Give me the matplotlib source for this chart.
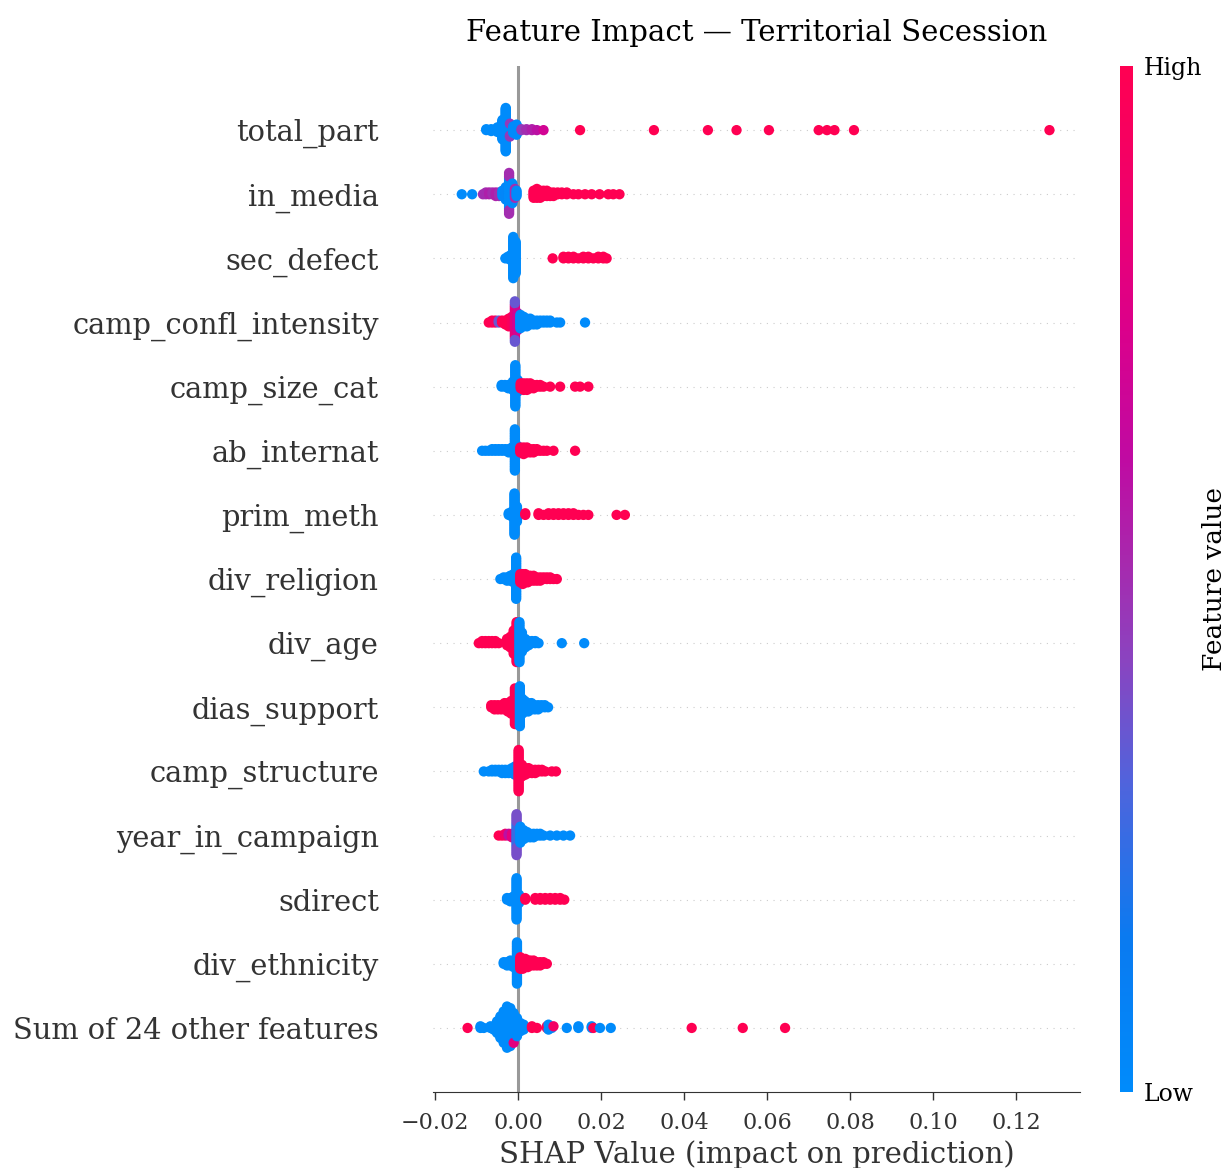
import numpy as np
import matplotlib
matplotlib.use("Agg")
import matplotlib.pyplot as plt
from matplotlib.colors import LinearSegmentedColormap

plt.rcParams['font.family'] = ['DejaVu Serif']

# feature names, top to bottom
features = ["total_part", "in_media", "sec_defect", "camp_confl_intensity",
            "camp_size_cat", "ab_internat", "prim_meth", "div_religion",
            "div_age", "dias_support", "camp_structure", "year_in_campaign",
            "sdirect", "div_ethnicity", "Sum of 24 other features"]

# each entry: (shap value, number of samples, feature value 0=low .. 1=high)
total_part = [(-0.0077, 2, 0), (-0.0065, 3, 0), (-0.0050, 6, 0), (-0.0038, 22, 0),
              (-0.0030, 26, 0), (-0.0022, 12, 0), (-0.0020, 3, 0.45), (-0.0012, 8, 0),
              (-0.0004, 4, 0), (0.0008, 2, 0.45), (0.0020, 2, 0.5), (0.0033, 2, 0.55),
              (0.0045, 1, 0.6), (0.0061, 1, 0.7), (0.0149, 1, 1), (0.0327, 1, 1),
              (0.0457, 1, 1), (0.0526, 1, 1), (0.0604, 1, 1), (0.0724, 1, 1),
              (0.0744, 1, 1), (0.0762, 1, 1), (0.0809, 1, 1), (0.128, 1, 1)]
in_media = [(-0.0136, 1, 0), (-0.0111, 1, 0), (-0.0085, 1, 0.5), (-0.0078, 2, 0.5),
            (-0.0070, 2, 0.55), (-0.0062, 2, 0.5), (-0.0054, 3, 0.55), (-0.0046, 3, 0.5),
            (-0.0038, 4, 0), (-0.0030, 8, 0.05), (-0.0022, 18, 0), (-0.0022, 6, 0.5),
            (-0.0014, 12, 0), (-0.0008, 6, 0.5), (-0.0004, 4, 0),
            (0.0037, 5, 1), (0.0045, 6, 1), (0.0053, 5, 1), (0.0061, 4, 1), (0.0069, 4, 1),
            (0.0077, 3, 1), (0.0085, 3, 1), (0.0095, 2, 1), (0.0105, 2, 1), (0.0117, 2, 1),
            (0.0133, 1, 1), (0.0145, 1, 1), (0.0161, 1, 1), (0.0177, 1, 1), (0.0196, 1, 1),
            (0.0217, 1, 1), (0.0229, 1, 1), (0.0244, 1, 1)]
sec_defect = [(-0.0031, 1, 0), (-0.0025, 2, 0), (-0.0018, 4, 0), (-0.0012, 26, 0),
              (-0.0006, 20, 0), (0.0083, 1, 1), (0.0109, 2, 1), (0.0121, 2, 1),
              (0.0133, 2, 1), (0.0145, 1, 1), (0.0157, 2, 1), (0.0169, 2, 1),
              (0.0181, 1, 1), (0.0193, 2, 1), (0.0205, 2, 1), (0.0213, 1, 1)]
camp_confl_intensity = [(-0.0071, 1, 1), (-0.0063, 2, 1), (-0.0055, 2, 0.95), (-0.0047, 2, 0.35),
                        (-0.0039, 2, 1), (-0.0031, 3, 1), (-0.0023, 5, 1), (-0.0015, 6, 0.95),
                        (-0.0008, 18, 0.8), (-0.0008, 4, 0.35), (-0.0002, 10, 0.7),
                        (0.0005, 8, 0), (0.0013, 6, 0), (0.0021, 5, 0), (0.0029, 4, 0),
                        (0.0037, 3, 0), (0.0045, 3, 0), (0.0053, 2, 0), (0.0061, 2, 0),
                        (0.0069, 2, 0), (0.0077, 2, 0), (0.0093, 1, 0), (0.0101, 1, 0),
                        (0.0161, 1, 0)]
camp_size_cat = [(-0.0040, 2, 0), (-0.0032, 2, 0), (-0.0024, 3, 0), (-0.0013, 6, 0),
                 (-0.0007, 26, 0), (-0.0001, 8, 0), (0.0006, 4, 1), (0.0013, 5, 1),
                 (0.0021, 5, 1), (0.0029, 4, 1), (0.0037, 3, 1), (0.0045, 2, 1),
                 (0.0053, 2, 1), (0.0061, 1, 1), (0.0077, 1, 1), (0.0101, 1, 1),
                 (0.0137, 1, 1), (0.0149, 1, 1), (0.0169, 1, 1)]
ab_internat = [(-0.0087, 1, 0), (-0.0079, 1, 0), (-0.0071, 1, 0), (-0.0063, 2, 0),
               (-0.0055, 2, 0), (-0.0047, 2, 0), (-0.0039, 2, 0), (-0.0031, 2, 0),
               (-0.0023, 3, 0), (-0.0015, 4, 0), (-0.0008, 26, 0), (-0.0002, 6, 0),
               (0.0005, 4, 1), (0.0013, 5, 1), (0.0021, 4, 1), (0.0029, 3, 1),
               (0.0037, 3, 1), (0.0045, 2, 1), (0.0053, 1, 1), (0.0061, 1, 1),
               (0.0069, 1, 1), (0.0085, 1, 1), (0.0137, 1, 1)]
prim_meth = [(-0.0023, 2, 0), (-0.0015, 4, 0), (-0.0009, 26, 0), (-0.0003, 10, 0),
             (0.0017, 2, 1), (0.0049, 2, 1), (0.0061, 1, 1), (0.0073, 2, 1),
             (0.0085, 2, 1), (0.0097, 2, 1), (0.0109, 2, 1), (0.0121, 2, 1),
             (0.0133, 2, 1), (0.0145, 1, 1), (0.0157, 1, 1), (0.0169, 1, 1),
             (0.0237, 1, 1), (0.0257, 1, 1)]
div_religion = [(-0.0043, 1, 0), (-0.0035, 2, 0), (-0.0027, 3, 0), (-0.0019, 4, 0),
                (-0.0011, 6, 0), (-0.0005, 26, 0), (0.0005, 6, 1), (0.0011, 7, 1),
                (0.0017, 6, 1), (0.0023, 5, 1), (0.0029, 4, 1), (0.0037, 4, 1),
                (0.0045, 3, 1), (0.0053, 3, 1), (0.0061, 2, 1), (0.0069, 2, 1),
                (0.0077, 2, 1), (0.0085, 1, 1), (0.0093, 1, 1)]
div_age = [(-0.0095, 1, 1), (-0.0087, 2, 1), (-0.0079, 2, 1), (-0.0071, 2, 1),
           (-0.0063, 2, 1), (-0.0055, 2, 1), (-0.0047, 1, 1), (-0.0027, 4, 1),
           (-0.0019, 6, 1), (-0.0011, 12, 1), (-0.0004, 20, 1), (0.0003, 20, 0),
           (0.0009, 10, 0), (0.0017, 5, 0), (0.0025, 3, 0), (0.0033, 2, 0),
           (0.0041, 2, 0), (0.0049, 1, 0), (0.0105, 1, 0), (0.0159, 1, 0)]
dias_support = [(-0.0065, 2, 1), (-0.0057, 3, 1), (-0.0049, 3, 1), (-0.0041, 3, 1),
                (-0.0033, 4, 1), (-0.0025, 5, 1), (-0.0017, 7, 1), (-0.0008, 18, 1),
                (-0.0002, 10, 1), (0.0004, 20, 0), (0.0010, 8, 0), (0.0016, 6, 0),
                (0.0024, 5, 0), (0.0032, 4, 0), (0.0040, 3, 0), (0.0048, 3, 0),
                (0.0056, 2, 0), (0.0064, 2, 0), (0.0072, 1, 0)]
camp_structure = [(-0.0083, 1, 0), (-0.0071, 1, 0), (-0.0063, 2, 0), (-0.0055, 2, 0),
                  (-0.0047, 2, 0), (-0.0039, 3, 0), (-0.0031, 3, 0), (-0.0023, 3, 0),
                  (-0.0015, 4, 0), (-0.0008, 6, 0), (0.0001, 26, 1), (0.0009, 8, 1),
                  (0.0017, 5, 1), (0.0025, 4, 1), (0.0033, 3, 1), (0.0041, 3, 1),
                  (0.0049, 2, 1), (0.0057, 2, 1), (0.0065, 1, 1), (0.0081, 1, 1),
                  (0.0091, 1, 1)]
year_in_campaign = [(-0.0047, 1, 1), (-0.0039, 1, 1), (-0.0031, 2, 0.9), (-0.0023, 2, 0.6),
                    (-0.0015, 3, 0.8), (-0.0004, 14, 0.25), (-0.0004, 10, 0.38),
                    (0.0005, 10, 0), (0.0013, 6, 0), (0.0021, 4, 0), (0.0029, 3, 0),
                    (0.0037, 3, 0), (0.0045, 2, 0), (0.0053, 2, 0), (0.0061, 1, 0),
                    (0.0077, 1, 0), (0.0093, 1, 0), (0.0109, 1, 0), (0.0125, 1, 0)]
sdirect = [(-0.0027, 2, 0), (-0.0019, 3, 0), (-0.0011, 4, 0), (-0.0004, 26, 0),
           (0.0002, 6, 0), (0.0017, 2, 1), (0.0041, 2, 1), (0.0053, 2, 1),
           (0.0065, 2, 1), (0.0077, 2, 1), (0.0089, 2, 1), (0.0101, 2, 1),
           (0.0111, 1, 1)]
div_ethnicity = [(-0.0035, 2, 0), (-0.0027, 3, 0), (-0.0019, 4, 0), (-0.0011, 5, 0),
                 (-0.0003, 26, 0), (0.0005, 8, 1), (0.0011, 7, 1), (0.0017, 6, 1),
                 (0.0023, 5, 1), (0.0029, 4, 1), (0.0037, 4, 1), (0.0045, 3, 1),
                 (0.0053, 3, 1), (0.0061, 2, 1), (0.0069, 1, 1)]
other_features = [(-0.0122, 1, 1), (-0.0091, 2, 0), (-0.0083, 1, 0), (-0.0067, 2, 0),
                  (-0.0059, 3, 0), (-0.0051, 8, 0), (-0.0043, 14, 0), (-0.0035, 20, 0),
                  (-0.0027, 26, 0), (-0.0019, 24, 0), (-0.0011, 18, 0), (-0.0011, 1, 0.8),
                  (-0.0003, 12, 0), (0.0005, 6, 0), (0.0013, 4, 0), (0.0033, 2, 1),
                  (0.0045, 1, 1), (0.0069, 2, 1), (0.0073, 2, 0), (0.0081, 1, 0),
                  (0.0085, 1, 0.9), (0.0117, 1, 0), (0.0145, 2, 0), (0.0177, 2, 0),
                  (0.0181, 1, 1), (0.0197, 1, 0), (0.0223, 1, 0), (0.0418, 1, 1),
                  (0.0541, 1, 1), (0.0643, 1, 1)]

rows = [total_part, in_media, sec_defect, camp_confl_intensity, camp_size_cat,
        ab_internat, prim_meth, div_religion, div_age, dias_support, camp_structure,
        year_in_campaign, sdirect, div_ethnicity, other_features]

xticks = [-0.02, 0.00, 0.02, 0.04, 0.06, 0.08, 0.10, 0.12]
xticklabels = ["\u22120.02", "0.00", "0.02", "0.04", "0.06", "0.08", "0.10", "0.12"]

red_blue = LinearSegmentedColormap.from_list("red_blue", [
    (0.00, "#008bfb"), (0.15, "#0a7af0"), (0.30, "#5064dc"), (0.42, "#8a44c0"),
    (0.52, "#a828ad"), (0.62, "#c00aa2"), (0.75, "#dc008a"), (0.88, "#f0006a"),
    (1.00, "#ff0052")])


def swarm(vals, row_height=0.4, nbins=100):
    # same stacking idea as shap's beeswarm
    n = len(vals)
    quant = np.round(nbins * (vals - vals.min()) / (vals.max() - vals.min() + 1e-8))
    inds = np.argsort(quant, kind="stable")
    ys = np.zeros(n)
    layer = 0
    last = None
    for i in inds:
        if quant[i] != last:
            layer = 0
        ys[i] = np.ceil(layer / 2) * ((layer % 2) * 2 - 1)
        layer += 1
        last = quant[i]
    ys *= 0.9 * (row_height / np.max(ys + 1))
    return ys


fig = plt.figure(figsize=(12.27, 11.68), dpi=100)
ax = fig.add_axes([0.353, 0.065, 0.527, 0.8785])

n = len(features)
for i, row in enumerate(rows):
    pos = n - 1 - i
    ax.axhline(pos, color="#cccccc", lw=0.8, dashes=(1, 5), zorder=-1)
    v = np.repeat([r[0] for r in row], [r[1] for r in row])
    c = np.repeat([r[2] for r in row], [r[1] for r in row])
    ys = swarm(v)
    ax.scatter(v, pos + ys, c=c, cmap=red_blue, vmin=0, vmax=1, s=55,
               linewidths=0, zorder=3, rasterized=True)

ax.axvline(0, color="#999999", lw=2.2, zorder=-1)
ax.set_ylim(-1, n)
ax.set_xlim(-0.0205, 0.1353)
ax.set_yticks(range(n))
ax.set_yticklabels(features[::-1], fontsize=20.8, color="#333333")
ax.set_xticks(xticks)
ax.set_xticklabels(xticklabels)
ax.tick_params(axis="y", length=0, pad=39)
ax.tick_params(axis="x", labelsize=16, color="#333333", labelcolor="#333333",
               length=6, width=1, pad=8)
for s in ["top", "right", "left"]:
    ax.spines[s].set_visible(False)
ax.spines["bottom"].set_color("#333333")
ax.set_xlabel("SHAP Value (impact on prediction)", fontsize=21, color="#333333", labelpad=5)
ax.set_title("Feature Impact \u2014 Territorial Secession", fontsize=21, pad=18)

cax = fig.add_axes([0.9128, 0.065, 0.0105, 0.8785])
sm = plt.cm.ScalarMappable(cmap=red_blue, norm=plt.Normalize(0, 1))
cb = fig.colorbar(sm, cax=cax, ticks=[0, 1])
cb.set_ticklabels(["Low", "High"])
cb.ax.tick_params(length=0, labelsize=17, pad=8)
cb.outline.set_visible(False)
cb.set_label("Feature value", fontsize=19, labelpad=0)

fig.savefig("out.png", dpi=100)
